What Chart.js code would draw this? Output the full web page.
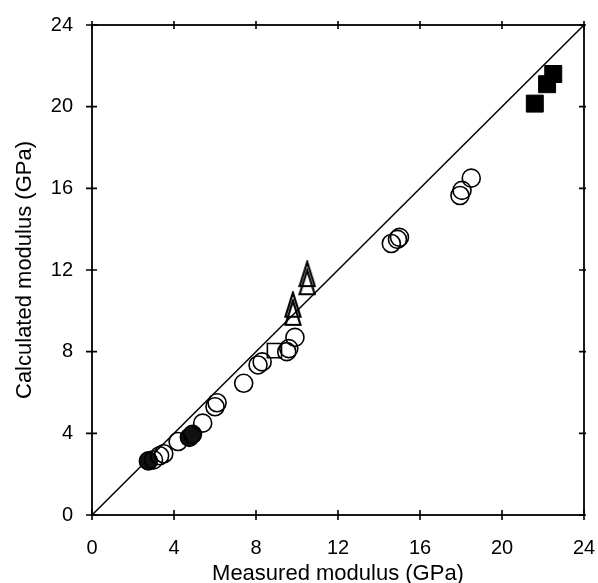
<!DOCTYPE html>
<html>
<head>
<meta charset="utf-8">
<script src="https://cdn.jsdelivr.net/npm/chart.js@4"></script>
<style>
  html, body { margin: 0; padding: 0; background: #fff; }
  #wrap { width: 598px; height: 583px; }
</style>
</head>
<body>
<div id="wrap"><canvas id="modulusChart" width="598" height="583"></canvas></div>
<script>
    const tickValues = [0, 4, 8, 12, 16, 20, 24];

    const openCircleX = [3.0, 3.3, 3.5, 4.2, 5.4, 6.0, 6.1, 7.4, 8.1, 8.3, 9.5, 9.6, 9.9, 14.6, 14.9, 15.0, 17.95, 18.05, 18.5];
    const openCircleY = [2.7, 2.9, 3.0, 3.6, 4.5, 5.3, 5.5, 6.45, 7.35, 7.5, 8.0, 8.15, 8.7, 13.3, 13.5, 13.6, 15.65, 15.9, 16.5];

    const filledCircleX = [2.75, 4.75, 4.9];
    const filledCircleY = [2.65, 3.8, 3.95];

    const triangleX = [9.8, 9.8, 10.5, 10.5];
    const triangleY = [9.9, 10.3, 11.4, 11.8];

    const openSquareX = [8.9];
    const openSquareY = [8.05];

    const filledSquareX = [21.6, 22.2, 22.5];
    const filledSquareY = [20.15, 21.1, 21.6];

    const lineX = [0, 24];
    const lineY = [0, 24];

    function toPoints(xs, ys) {
        return xs.map((x, i) => ({ x: x, y: ys[i] }));
    }

    // tall open triangle marker
    let tri = document.createElement('canvas');
    tri.width = 18; tri.height = 28;
    let tctx = tri.getContext('2d');
    tctx.strokeStyle = '#000';
    tctx.lineWidth = 2.2;
    tctx.beginPath();
    tctx.moveTo(9, 2);
    tctx.lineTo(16.5, 26);
    tctx.lineTo(1.5, 26);
    tctx.closePath();
    tctx.stroke();

    const frameTicks = {
        id: 'frameTicks',
        afterDraw(chart) {
            let ctx = chart.ctx;
            let a = chart.chartArea;
            let xs = chart.scales.x, ys = chart.scales.y;
            ctx.save();
            ctx.strokeStyle = '#000';
            ctx.lineWidth = 1.8;
            ctx.strokeRect(a.left, a.top, a.right - a.left, a.bottom - a.top);
            ctx.lineWidth = 1.6;
            ctx.beginPath();
            tickValues.forEach(v => {
                let px = xs.getPixelForValue(v);
                ctx.moveTo(px, a.bottom - 5); ctx.lineTo(px, a.bottom + 5);
                ctx.moveTo(px, a.top - 4); ctx.lineTo(px, a.top + 4);
                let py = ys.getPixelForValue(v);
                ctx.moveTo(a.left - 6, py); ctx.lineTo(a.left + 5, py);
                ctx.moveTo(a.right - 5, py); ctx.lineTo(a.right + 2, py);
            });
            ctx.stroke();
            ctx.restore();
        }
    };

    const labelFont = { family: 'Liberation Sans, Arial, sans-serif', size: 20 };
    const titleFont = { family: 'Liberation Sans, Arial, sans-serif', size: 22 };

    let ctx = document.getElementById('modulusChart').getContext('2d');
    new Chart(ctx, {
        type: 'scatter',
        data: {
            datasets: [
                { data: toPoints(lineX, lineY), showLine: true, borderColor: '#000', borderWidth: 1.5, pointRadius: 0, order: 5 },
                { data: toPoints(openCircleX, openCircleY), pointStyle: 'circle', pointRadius: 9, borderColor: '#000', borderWidth: 1.6, backgroundColor: 'rgba(0,0,0,0)' },
                { data: toPoints(filledCircleX, filledCircleY), pointStyle: 'circle', pointRadius: 9, borderColor: '#000', borderWidth: 1.6, backgroundColor: '#111' },
                { data: toPoints(triangleX, triangleY), pointStyle: tri, pointRadius: 10 },
                { data: toPoints(openSquareX, openSquareY), pointStyle: 'rect', pointRadius: 10, borderColor: '#000', borderWidth: 1.6, backgroundColor: 'rgba(0,0,0,0)' },
                { data: toPoints(filledSquareX, filledSquareY), pointStyle: 'rect', pointRadius: 12, borderColor: '#000', borderWidth: 1, backgroundColor: '#000' }
            ]
        },
        options: {
            responsive: false,
            animation: false,
            layout: { padding: { top: 25, right: 0, left: 0, bottom: 0 } },
            plugins: { legend: { display: false }, tooltip: { enabled: false } },
            scales: {
                x: {
                    type: 'linear', min: 0, max: 24,
                    afterBuildTicks: s => { s.ticks = tickValues.map(v => ({ value: v })); },
                    afterFit: s => { s.height = 68; s.paddingRight = 14; s.paddingLeft = 0; },
                    grid: { display: false },
                    border: { display: false },
                    ticks: { color: '#000', font: labelFont, padding: 13 },
                    title: { display: true, text: 'Measured modulus (GPa)', color: '#000', font: titleFont, padding: { top: 2, bottom: -4 } }
                },
                y: {
                    type: 'linear', min: 0, max: 24,
                    afterBuildTicks: s => { s.ticks = tickValues.map(v => ({ value: v })); },
                    afterFit: s => { s.width = 92; },
                    grid: { display: false },
                    border: { display: false },
                    ticks: { color: '#000', font: labelFont, padding: 11 },
                    title: { display: true, text: 'Calculated modulus (GPa)', color: '#000', font: titleFont, padding: { top: 12, bottom: 0 } }
                }
            }
        },
        plugins: [frameTicks]
    });
</script>
</body>
</html>
